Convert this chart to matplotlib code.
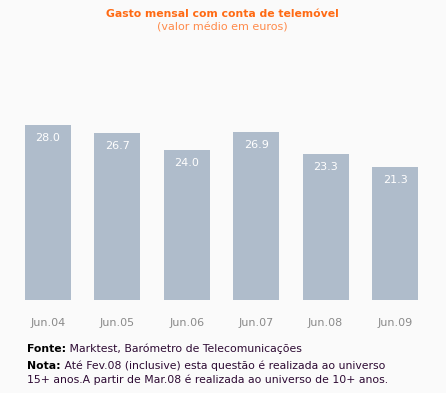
import matplotlib
matplotlib.use("Agg")
from matplotlib import pyplot as plt

# data
periods = ["Jun.04", "Jun.05", "Jun.06", "Jun.07", "Jun.08", "Jun.09"]
spend = [28.0, 26.7, 24.0, 26.9, 23.3, 21.3]

title = "Gasto mensal com conta de telemóvel"
subtitle = "(valor médio em euros)"
source_label = "Fonte:"
source_text = " Marktest, Barómetro de Telecomunicações"
note_label = "Nota:"
note_text = " Até Fev.08 (inclusive) esta questão é realizada ao universo"
note_line2 = "15+ anos.A partir de Mar.08 é realizada ao universo de 10+ anos."

W, H = 446, 393
BG = "#fafafa"
BAR = "#afbccb"
ORANGE = "#ff6a13"
BODY = "#2d0a33"

plt.rcParams["font.family"] = "DejaVu Sans"

fig = plt.figure(figsize=(W / 100, H / 100), dpi=100, facecolor=BG)


def px(x, y):
    return x / W, 1 - y / H


# axes: x from 13 to 430 px, y baseline at 300 px, top at 50 px
x0, x1, ytop, ybot = 13.25, 429.75, 50, 300
ax = fig.add_axes([x0 / W, 1 - ybot / H, (x1 - x0) / W, (ybot - ytop) / H])
ax.set_facecolor(BG)
pos = list(range(len(periods)))
bars = ax.bar(pos, spend, width=0.66, color=BAR)
ax.set_xlim(-0.5, len(periods) - 0.5)
ax.set_ylim(0, 40)
for s in ax.spines.values():
    s.set_visible(False)
ax.set_yticks([])
ax.set_xticks(pos)
ax.set_xticklabels(periods, color="#8a8a8a", fontsize=8)
ax.tick_params(axis="x", length=0, pad=13)

for b, v in zip(bars, spend):
    ax.annotate(f"{v:.1f}", (b.get_x() + b.get_width() / 2, v),
                xytext=(0, -9.4), textcoords="offset points",
                ha="center", va="center", color="white", fontsize=8)

fig.text(*px(222, 14), title, ha="center", va="center",
         color=ORANGE, fontsize=7.8, fontweight="bold")
fig.text(*px(222, 27), subtitle, ha="center", va="center",
         color="#ff8a4a", fontsize=8)

renderer = fig.canvas.get_renderer()


def label_line(x, y, bold, rest):
    t = fig.text(*px(x, y), bold, ha="left", va="center",
                 color="black", fontsize=7.8, fontweight="bold")
    ext = t.get_window_extent(renderer)
    fig.text(*px(x + ext.width, y), rest, ha="left", va="center",
             color=BODY, fontsize=7.8)


label_line(27, 349, source_label, source_text)
label_line(27, 366, note_label, note_text)
fig.text(*px(27, 380), note_line2, ha="left", va="center", color=BODY, fontsize=7.8)

fig.savefig("out.png", dpi=100, facecolor=BG)
